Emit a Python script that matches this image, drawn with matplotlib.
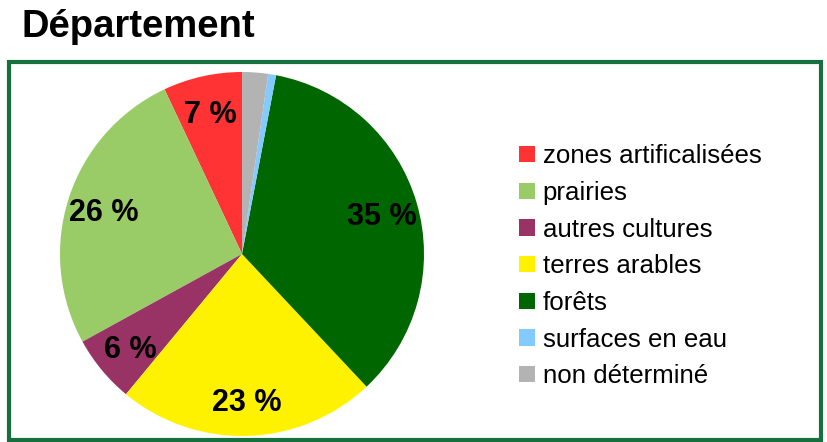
import numpy as np
import matplotlib
matplotlib.use("Agg")
import matplotlib.pyplot as plt
from matplotlib.patches import Rectangle

# land use shares, in percent (counter-clockwise from 12 o'clock)
categories = ["zones artificalisées", "prairies", "autres cultures",
              "terres arables", "forêts", "surfaces en eau", "non déterminé"]
shares = [7, 26, 6, 23, 35, 0.7, 2.3]
colors = ["#ff3333", "#99cc66", "#993366", "#fff200", "#006600", "#83caff", "#b3b3b3"]

plt.rcParams['font.family'] = ['Liberation Sans', 'DejaVu Sans']

fig = plt.figure(figsize=(8.28, 4.42), dpi=100)
fig.patch.set_facecolor("white")

fig.text(22 / 828, 1 - 27 / 442, "Département", fontsize=27.5, fontweight="bold",
         ha="left", va="center")

# green frame round the chart
frame = Rectangle((9 / 828, 2 / 442), 812 / 828, 378 / 442, transform=fig.transFigure,
                  fill=False, edgecolor="#16703e", linewidth=3)
fig.add_artist(frame)

# pie: centre (242, 254) px, radius 182 px
ax = fig.add_axes([(242 - 182) / 828, (442 - 254 - 182) / 442, 364 / 828, 364 / 442])


def fmt(p):
    return "%d %%" % round(p) if p >= 5 else ""


wedges, texts, autotexts = ax.pie(shares, colors=colors, startangle=90, counterclock=True,
                                  autopct=fmt, pctdistance=0.8, radius=1,
                                  wedgeprops=dict(linewidth=0),
                                  textprops=dict(fontsize=22, fontweight="bold", color="black"))
for t in autotexts:
    t.set_va("center_baseline")
ax.set_xlim(-1, 1)
ax.set_ylim(-1, 1)
ax.set_aspect("equal")

leg = fig.legend(wedges, categories, loc="upper left",
                 bbox_to_anchor=(509 / 828, 1 - 134 / 442), frameon=False,
                 fontsize=18.6, handlelength=0.6, handleheight=0.6,
                 handletextpad=0.3, labelspacing=0.49, borderaxespad=0)

fig.savefig("out.png", dpi=100, facecolor="white")
